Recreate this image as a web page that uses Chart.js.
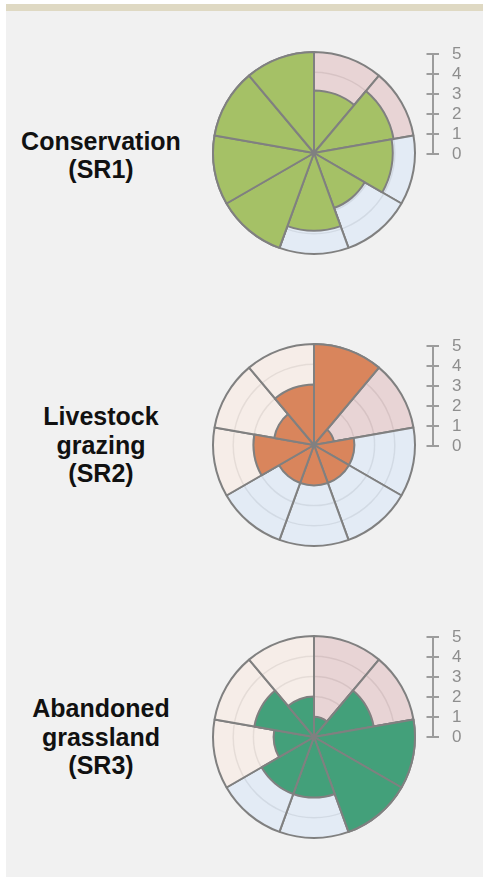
<!DOCTYPE html>
<html>
<head>
<meta charset="utf-8">
<script src="https://cdn.jsdelivr.net/npm/chart.js@4.4.1/dist/chart.umd.min.js"></script>
<style>
  html, body { margin: 0; padding: 0; background: #ffffff; }
  body { width: 483px; height: 877px; position: relative; overflow: hidden; }
  #band { position: absolute; left: 6px; top: 4px; width: 477px; height: 7px; background: #dfd9c3; }
  #panel { position: absolute; left: 6px; top: 11px; width: 477px; height: 866px; background: #f1f1f1; }
  .rowlabel { position: absolute; left: 6px; width: 190px; height: 200px; display: flex; align-items: center; justify-content: center;
    text-align: center; font-family: "Liberation Sans", Arial, sans-serif; font-weight: bold; font-size: 25px; line-height: 28.5px; color: #111; }
  canvas { position: absolute; }
</style>
</head>
<body>
<div id="band"></div>
<div id="panel"></div>
<div class="rowlabel" id="lab0" style="top:55px"></div>
<div class="rowlabel" id="lab1" style="top:345px"></div>
<div class="rowlabel" id="lab2" style="top:637px"></div>
<canvas id="polar0" width="207" height="207" style="left:211px;top:50px;width:207px;height:207px"></canvas>
<canvas id="polar1" width="207" height="207" style="left:211px;top:342px;width:207px;height:207px"></canvas>
<canvas id="polar2" width="207" height="207" style="left:211px;top:634px;width:207px;height:207px"></canvas>
<canvas id="bar0" width="63" height="150" style="left:420px;top:29px;width:63px;height:150px"></canvas>
<canvas id="bar1" width="63" height="150" style="left:420px;top:321px;width:63px;height:150px"></canvas>
<canvas id="bar2" width="63" height="150" style="left:420px;top:612px;width:63px;height:150px"></canvas>
<script>
// ---- data ----
const categories = ['ES1', 'ES2', 'ES3', 'ES4', 'ES5', 'ES6', 'ES7', 'ES8', 'ES9'];
const serviceGroups = ['pink', 'pink', 'blue', 'blue', 'blue', 'blue', 'orange', 'orange', 'orange'];
const backgroundValues = [5, 5, 5, 5, 5, 5, 5, 5, 5];
const sr1Values = [3.1, 4.0, 3.9, 2.9, 3.85, 5, 5, 5, 5];
const sr2Values = [5, 1.0, 2.0, 2.0, 2.0, 2.0, 3.0, 2.0, 3.0];
const sr3Values = [1.0, 3.0, 5, 5, 3.0, 3.0, 2.0, 3.0, 2.0];
const scaleTickLabels = ['0', '1', '2', '3', '4', '5'];
const scaleMin = 0;
const scaleMax = 5;
const rowTitles = [
  ['Conservation', '(SR1)'],
  ['Livestock', 'grazing', '(SR2)'],
  ['Abandoned', 'grassland', '(SR3)']
];

// ---- styles ----
const seriesColors = ['#a5c166', '#d9855c', '#43a07a'];
const groupColors = {
  pink: 'rgba(230,206,207,0.84)',
  blue: 'rgba(224,234,245,0.84)',
  orange: 'rgba(247,236,230,0.84)'
};
const edgeColor = '#808080';
const rows = [sr1Values, sr2Values, sr3Values];

rows.forEach((vals, i) => {
  document.getElementById('lab' + i).innerHTML = rowTitles[i].join('<br>');

  new Chart(document.getElementById('polar' + i), {
    type: 'polarArea',
    data: {
      labels: categories,
      datasets: [
        { data: vals, backgroundColor: seriesColors[i], borderColor: edgeColor, borderWidth: 2, clip: false },
        { data: backgroundValues, backgroundColor: serviceGroups.map(g => groupColors[g]), borderColor: edgeColor, borderWidth: 2, clip: false }
      ]
    },
    options: {
      responsive: false,
      animation: false,
      events: [],
      layout: { padding: 2 },
      plugins: { legend: { display: false }, tooltip: { enabled: false } },
      scales: {
        r: {
          min: scaleMin, max: scaleMax,
          ticks: { display: false, stepSize: 1 },
          pointLabels: { display: false },
          angleLines: { display: false },
          grid: {
            circular: true,
            color: (ctx) => (ctx.tick && ctx.tick.value >= scaleMax) ? 'rgba(0,0,0,0)' : '#8c8c8c',
            lineWidth: 1.5,
            borderDash: [3, 4]
          }
        }
      }
    }
  });

  new Chart(document.getElementById('bar' + i), {
    type: 'bar',
    data: { labels: [''], datasets: [{ data: [] }] },
    options: {
      responsive: false,
      animation: false,
      events: [],
      layout: { padding: { left: 6.5, top: 25, bottom: 25, right: 0 } },
      plugins: { legend: { display: false }, tooltip: { enabled: false } },
      scales: {
        x: { display: false },
        y: {
          position: 'right',
          min: scaleMin, max: scaleMax,
          ticks: {
            stepSize: 1, padding: 13, color: '#8e8e8e', autoSkip: false,
            font: { size: 17, family: '"Liberation Sans", Arial, sans-serif' },
            callback: (v, idx) => scaleTickLabels[idx]
          },
          grid: { color: '#9c9c9c', lineWidth: 2, tickLength: 6, drawOnChartArea: true },
          border: { display: true, color: '#9c9c9c', width: 2 },
          afterFit: (scale) => { scale.width = 50; }
        }
      }
    }
  });
});
</script>
</body>
</html>
